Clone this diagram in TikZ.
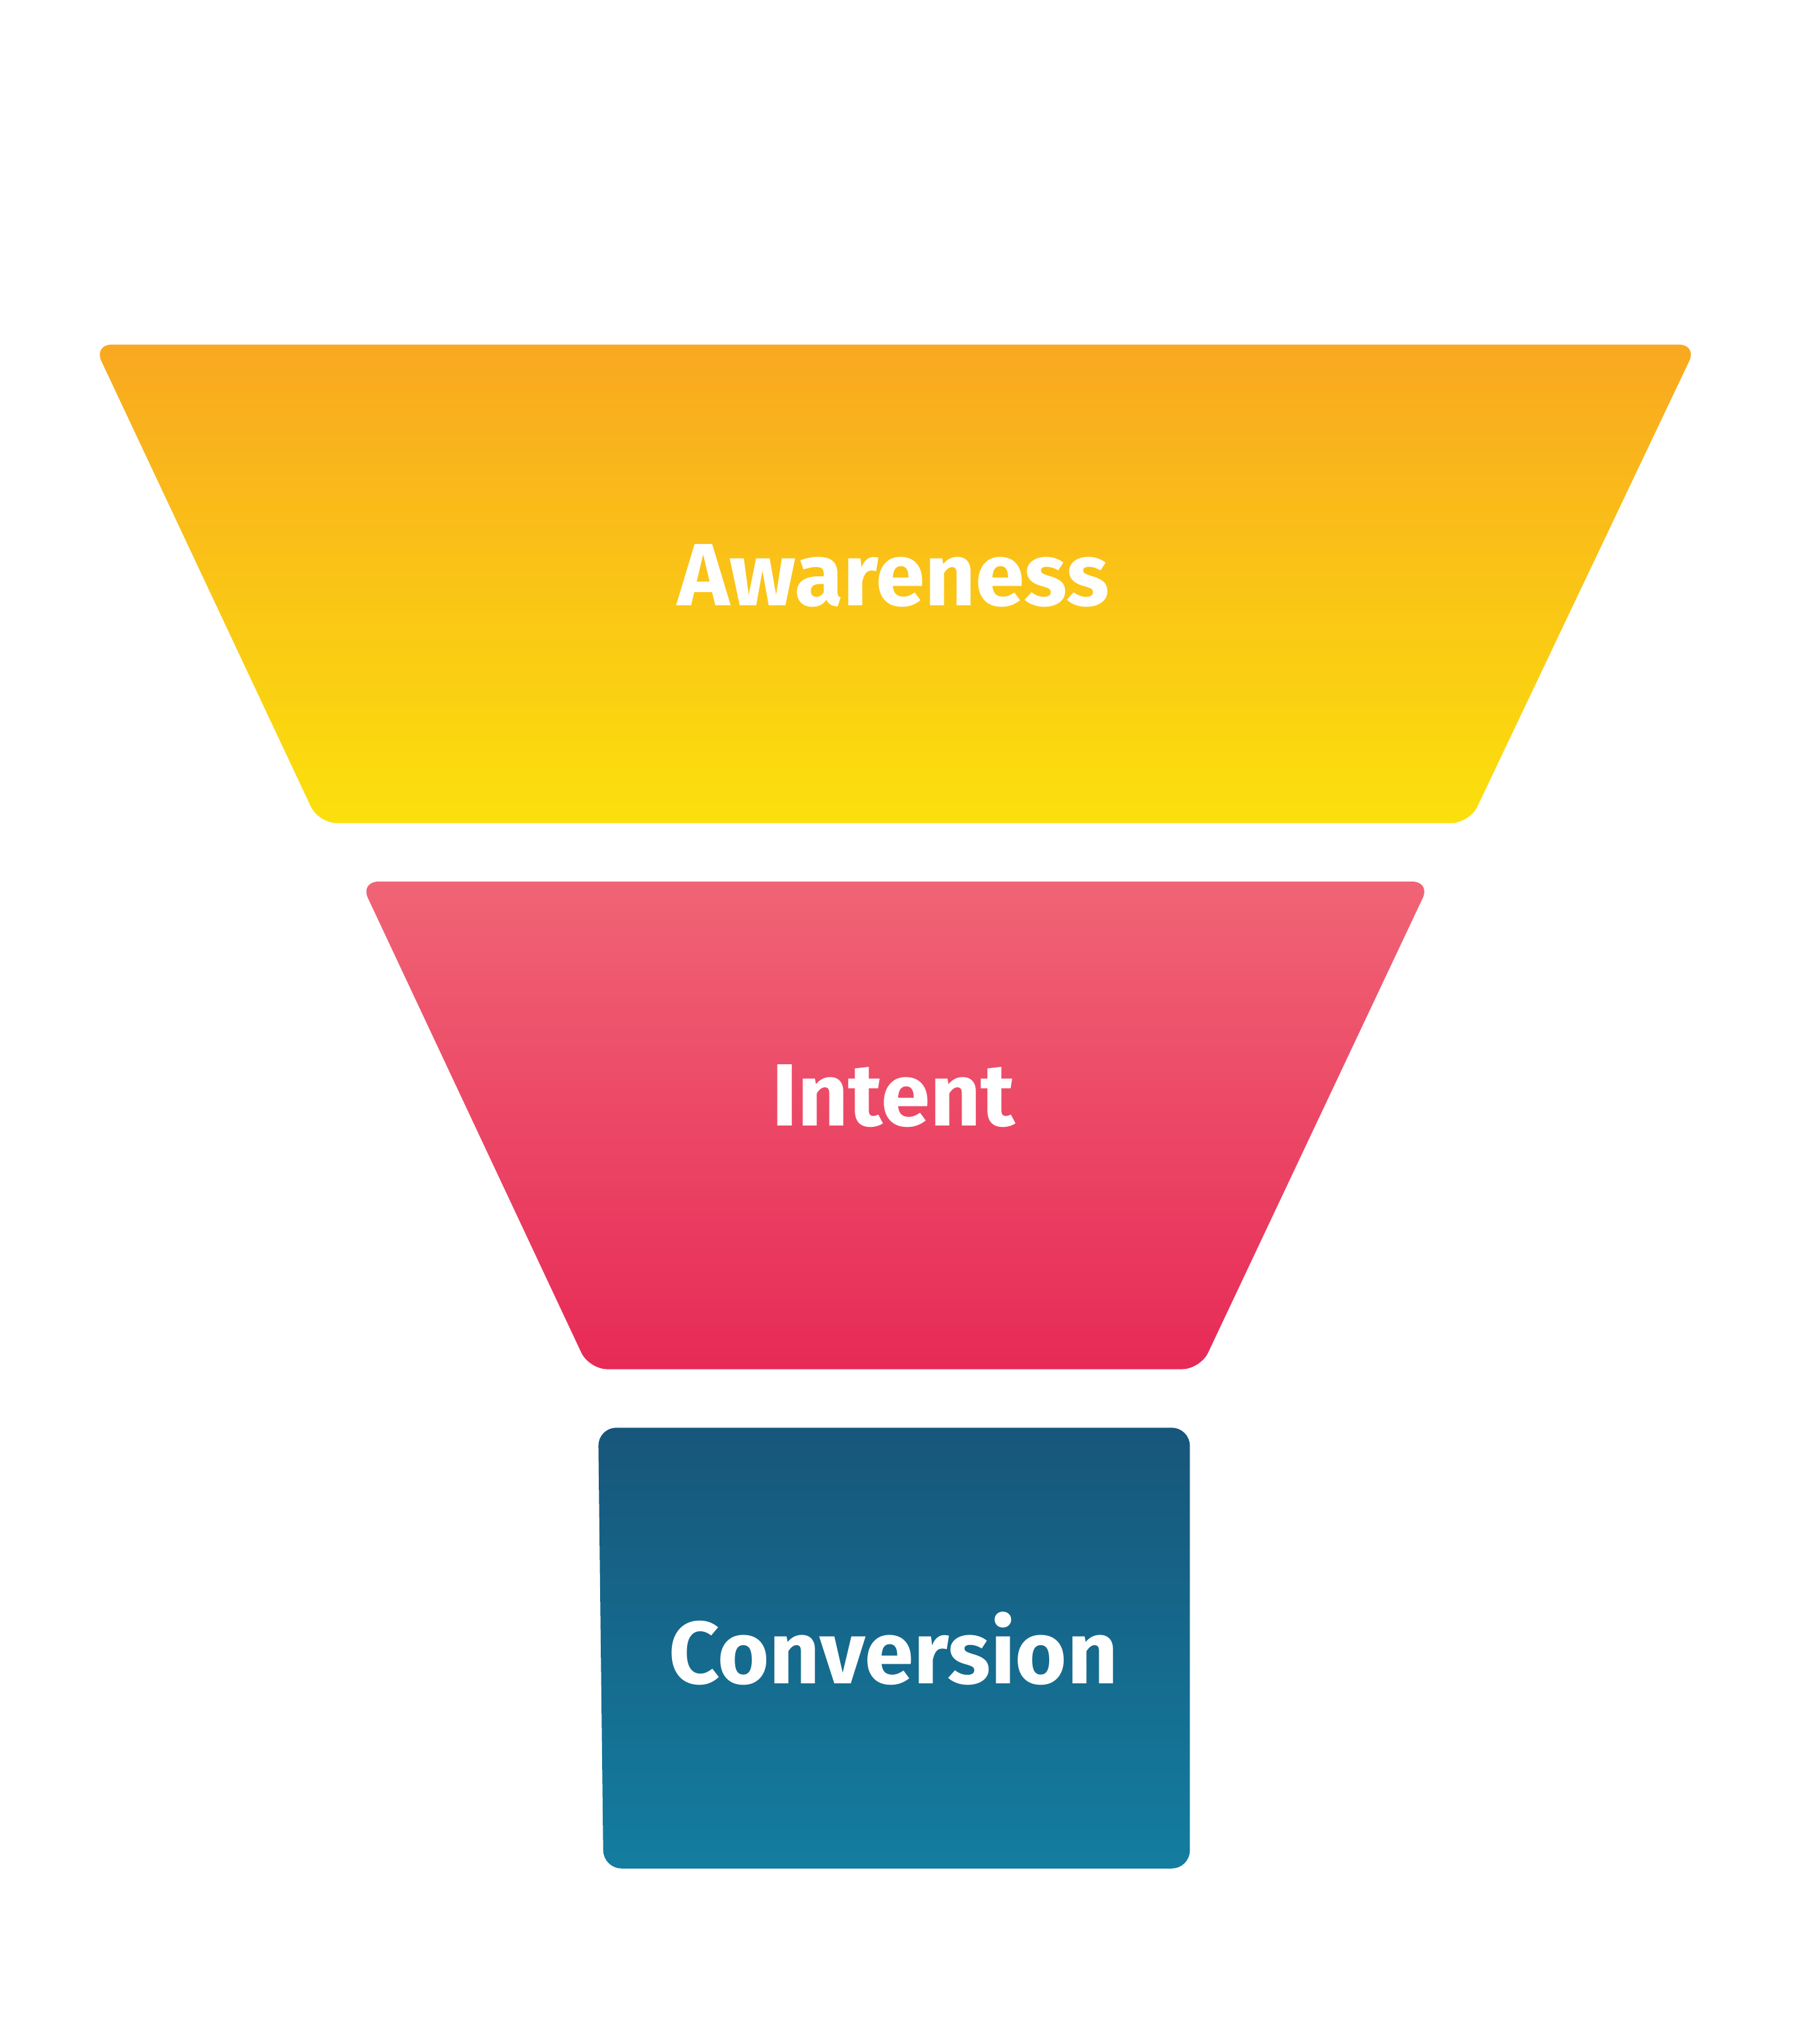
\documentclass[tikz,border=0pt]{standalone}
\usepackage{fontspec}
\setmainfont{Fira Sans}
\begin{document}
\begin{tikzpicture}[x=1pt,y=-1pt,
  lbl/.style={text=white,font=\fontsize{68}{70}\selectfont\bfseries},
  seg/.style={rounded corners=14pt}]
\useasboundingbox (0,0) rectangle (1380,1572);
\definecolor{aT}{HTML}{F9A820}\definecolor{aB}{HTML}{FBE00C}
\definecolor{iT}{HTML}{F06475}\definecolor{iB}{HTML}{E72A56}
\definecolor{cT}{HTML}{17567A}\definecolor{cB}{HTML}{137DA0}
\shade[seg,top color=aT,bottom color=aB] (72,265) -- (1305,265) -- (1130,633) -- (245,633) -- cycle;
\shade[seg,top color=iT,bottom color=iB] (277,678) -- (1100,678) -- (923,1053) -- (453,1053) -- cycle;
\shade[seg,top color=cT,bottom color=cB] (460,1098) -- (915,1098) -- (915,1437) -- (464,1437) -- cycle;
\node[lbl] (a) at (687,443) {Awareness};
\node[lbl] (i) at (687,843) {Intent};
\node[lbl] (c) at (687,1268) {Conversion};
\end{tikzpicture}
\end{document}
